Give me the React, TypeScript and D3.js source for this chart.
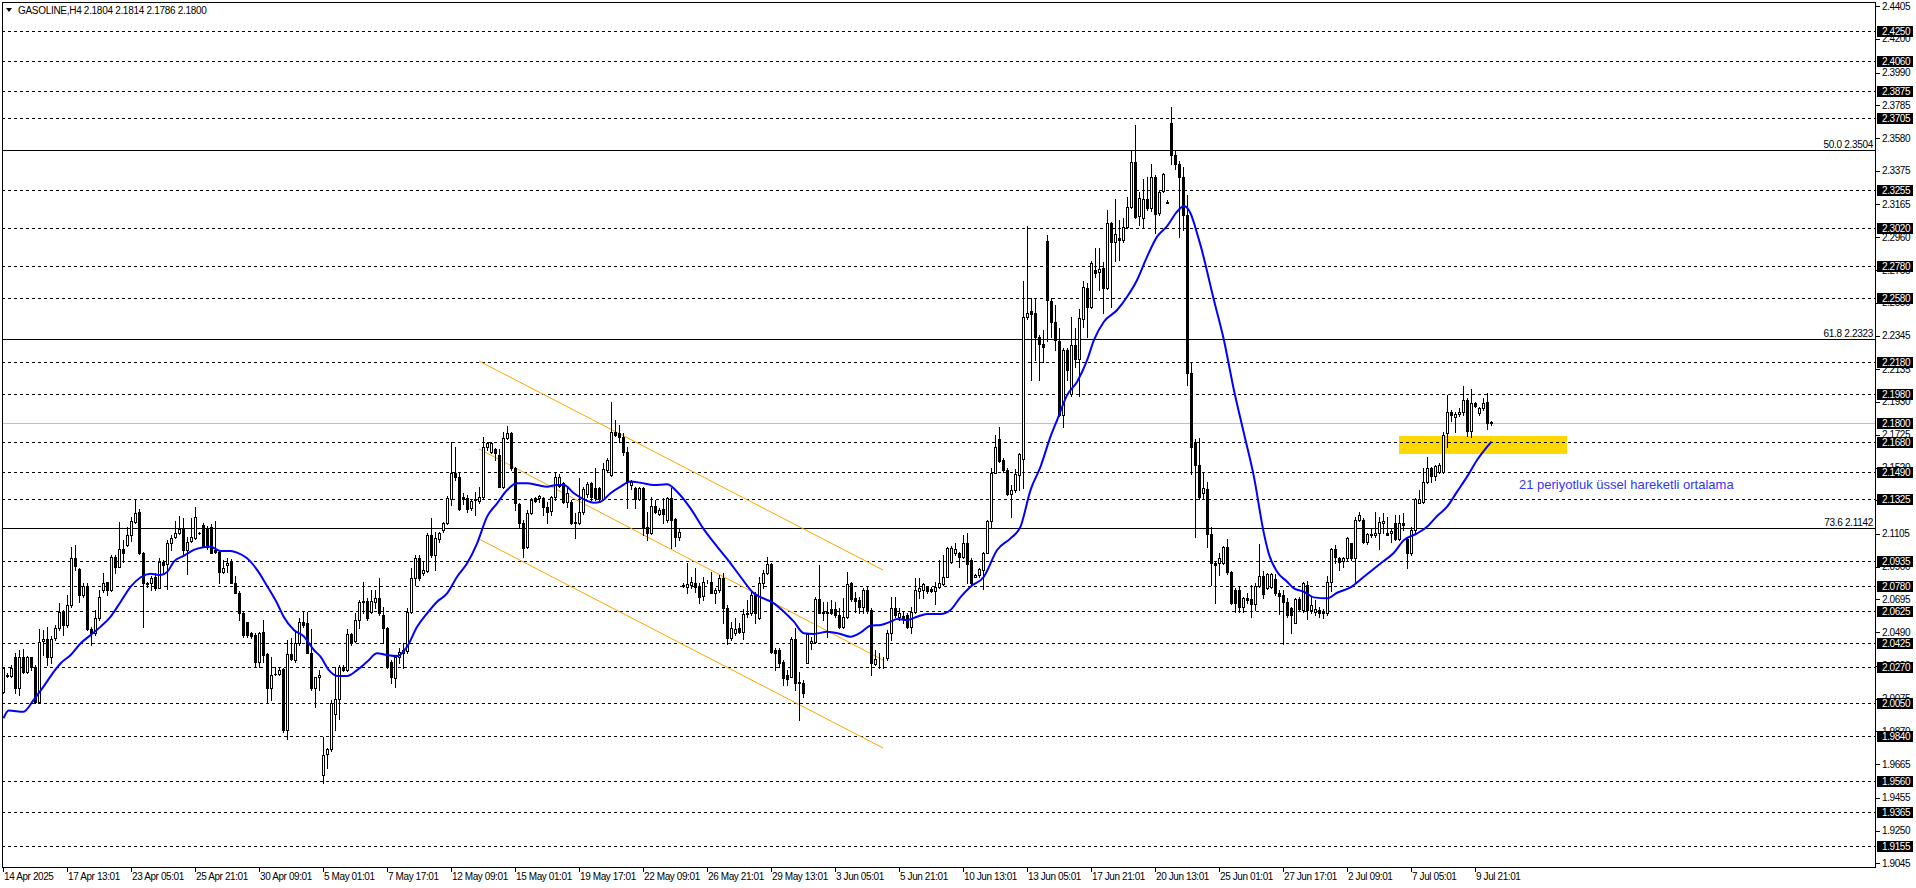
import React from "react";
import * as d3 from "d3";

const W = 1916;
const H = 888;

const barOpen = [
  2.0118, 2.0220, 2.0219, 2.0333, 2.0139, 2.0333, 2.0244, 2.0333, 2.0275, 2.0056,
  2.0437, 2.0446, 2.0337, 2.0452, 2.0515, 2.0619, 2.0536, 2.0661, 2.0953, 2.0884,
  2.0723, 2.0779, 2.0510, 2.0483, 2.0577, 2.0755, 2.0802, 2.0755, 2.0959, 2.0900,
  2.1009, 2.1036, 2.1098, 2.1182, 2.1240, 2.0984, 2.0796, 2.0800, 2.0834, 2.0765,
  2.0927, 2.0915, 2.1050, 2.1084, 2.1109, 2.1140, 2.1005, 2.1063, 2.1078, 2.1113,
  2.1161, 2.1140, 2.1146, 2.1005, 2.0994, 2.0869, 2.0911, 2.0932, 2.0800, 2.0738,
  2.0609, 2.0552, 2.0483, 2.0473, 2.0306, 2.0490, 2.0354, 2.0139, 2.0229, 2.0229,
  2.0258, 1.9879, 2.0354, 2.0317, 2.0421, 2.0556, 2.0546, 2.0362, 2.0139, 2.0208,
  1.9597, 1.9729, 1.9758, 1.9980, 2.0070, 2.0274, 2.0254, 2.0477, 2.0437, 2.0566,
  2.0677, 2.0685, 2.0619, 2.0677, 2.0702, 2.0598, 2.0514, 2.0306, 2.0202, 2.0337,
  2.0358, 2.0374, 2.0618, 2.0827, 2.0952, 2.0862, 2.0875, 2.1098, 2.0973, 2.1073,
  2.1129, 2.1171, 2.1321, 2.1484, 2.1463, 2.1334, 2.1327, 2.1265, 2.1317, 2.1311,
  2.1338, 2.1646, 2.1620, 2.1634, 2.1598, 2.1400, 2.1702, 2.1738, 2.1515, 2.1292,
  2.1171, 2.1021, 2.1238, 2.1327, 2.1327, 2.1327, 2.1275, 2.1250, 2.1338, 2.1405,
  2.1421, 2.1306, 2.1306, 2.1181, 2.1175, 2.1244, 2.1354, 2.1421, 2.1390, 2.1390,
  2.1321, 2.1505, 2.1473, 2.1744, 2.1738, 2.1713, 2.1619, 2.1411, 2.1390, 2.1321,
  2.1390, 2.1150, 2.1113, 2.1279, 2.1229, 2.1258, 2.1192, 2.1327, 2.1196, 2.1088,
  2.0782, 2.0775, 2.0786, 2.0796, 2.0781, 2.0716, 2.0806, 2.0806, 2.0737, 2.0754,
  2.0827, 2.0639, 2.0452, 2.0483, 2.0514, 2.0494, 2.0604, 2.0608, 2.0723, 2.0577,
  2.0800, 2.0858, 2.0917, 2.0379, 2.0379, 2.0306, 2.0222, 2.0212, 2.0445, 2.0180,
  2.0174, 2.0300, 2.0424, 2.0431, 2.0698, 2.0618, 2.0608, 2.0633, 2.0633, 2.0598,
  2.0520, 2.0583, 2.0800, 2.0702, 2.0691, 2.0645, 2.0754, 2.0629, 2.0291, 2.0326,
  2.0326, 2.0326, 2.0487, 2.0639, 2.0583, 2.0591, 2.0598, 2.0525, 2.0618, 2.0750,
  2.0754, 2.0775, 2.0758, 2.0750, 2.0771, 2.0792, 2.0837, 2.0931, 2.0983, 2.0983,
  2.0958, 2.1046, 2.0941, 2.0837, 2.0848, 2.0879, 2.0987, 2.1185, 2.1487, 2.1696,
  2.1567, 2.1504, 2.1354, 2.1379, 2.1473, 2.1571, 2.2459, 2.2498, 2.2488, 2.2334,
  2.2292, 2.2938, 2.2563, 2.2432, 2.2313, 2.1848, 2.2255, 2.1980, 2.2286, 2.2196,
  2.2447, 2.2640, 2.2526, 2.2755, 2.2745, 2.2765, 2.2640, 2.3051, 2.2932, 2.2953,
  2.2943, 2.3022, 2.3147, 2.3433, 2.3093, 2.3078, 2.3197, 2.3141, 2.3335, 2.3110,
  2.3252, 2.3180, 2.3673, 2.3475, 2.3418, 2.3335, 2.3099, 2.2113, 2.1681, 2.1536,
  2.1359, 2.1384, 2.1104, 2.0925, 2.0925, 2.0925, 2.1025, 2.0869, 2.0754, 2.0754,
  2.0650, 2.0702, 2.0696, 2.0666, 2.0779, 2.0841, 2.0764, 2.0770, 2.0821, 2.0737,
  2.0723, 2.0681, 2.0639, 2.0550, 2.0696, 2.0629, 2.0785, 2.0629, 2.0618, 2.0629,
  2.0618, 2.0608, 2.0806, 2.1008, 2.0952, 2.0937, 2.0952, 2.1046, 2.0952, 2.1192,
  2.1192, 2.1056, 2.1104, 2.1100, 2.1112, 2.1175, 2.1108, 2.1108, 2.1175, 2.1071,
  2.1171, 2.1071, 2.0983, 2.1129, 2.1300, 2.1306, 2.1431, 2.1515, 2.1467, 2.1494,
  2.1494, 2.1734, 2.1869, 2.1834, 2.1855, 2.1869, 2.1942, 2.1750, 2.1926, 2.1859,
  2.1890, 2.1932, 2.1804,
];

const barHigh = [
  2.0275, 2.0233, 2.0285, 2.0358, 2.0379, 2.0383, 2.0342, 2.0337, 2.0285, 2.0508,
  2.0504, 2.0525, 2.0467, 2.0535, 2.0671, 2.0629, 2.0723, 2.1025, 2.1036, 2.0890,
  2.0796, 2.0796, 2.0525, 2.0629, 2.0755, 2.0859, 2.0807, 2.0973, 2.0973, 2.1182,
  2.1067, 2.1151, 2.1213, 2.1322, 2.1259, 2.0994, 2.0807, 2.0842, 2.0859, 2.0953,
  2.0942, 2.1067, 2.1098, 2.1188, 2.1217, 2.1203, 2.1088, 2.1203, 2.1272, 2.1119,
  2.1171, 2.1155, 2.1167, 2.1188, 2.1005, 2.0942, 2.0953, 2.0946, 2.0842, 2.0750,
  2.0619, 2.0556, 2.0494, 2.0483, 2.0494, 2.0567, 2.0362, 2.0337, 2.0275, 2.0275,
  2.0264, 2.0442, 2.0452, 2.0504, 2.0577, 2.0619, 2.0619, 2.0508, 2.0212, 2.0254,
  1.9837, 1.9764, 2.0066, 2.0274, 2.0285, 2.0285, 2.0508, 2.0483, 2.0608, 2.0691,
  2.0802, 2.0702, 2.0754, 2.0754, 2.0827, 2.0650, 2.0525, 2.0316, 2.0348, 2.0389,
  2.0420, 2.0639, 2.0889, 2.0973, 2.0973, 2.0931, 2.1108, 2.1202, 2.1119, 2.1119,
  2.1181, 2.1342, 2.1682, 2.1650, 2.1484, 2.1359, 2.1348, 2.1317, 2.1369, 2.1396,
  2.1709, 2.1682, 2.1682, 2.1640, 2.1634, 2.1744, 2.1780, 2.1744, 2.1525, 2.1296,
  2.1192, 2.1254, 2.1327, 2.1338, 2.1348, 2.1338, 2.1306, 2.1342, 2.1484, 2.1480,
  2.1432, 2.1390, 2.1317, 2.1233, 2.1452, 2.1396, 2.1432, 2.1432, 2.1515, 2.1400,
  2.1546, 2.1577, 2.1932, 2.1817, 2.1786, 2.1734, 2.1650, 2.1442, 2.1396, 2.1400,
  2.1396, 2.1244, 2.1338, 2.1317, 2.1265, 2.1327, 2.1338, 2.1390, 2.1202, 2.1134,
  2.0796, 2.0921, 2.0833, 2.0890, 2.0796, 2.0837, 2.0817, 2.0869, 2.0764, 2.0848,
  2.0858, 2.0660, 2.0556, 2.0577, 2.0545, 2.0633, 2.0691, 2.0744, 2.0744, 2.0837,
  2.0879, 2.0962, 2.0921, 2.0389, 2.0389, 2.0316, 2.0254, 2.0462, 2.0514, 2.0243,
  2.0191, 2.0483, 2.0462, 2.0712, 2.0910, 2.0681, 2.0681, 2.0691, 2.0681, 2.0639,
  2.0702, 2.0869, 2.0806, 2.0744, 2.0712, 2.0764, 2.0775, 2.0639, 2.0379, 2.0358,
  2.0337, 2.0504, 2.0712, 2.0712, 2.0639, 2.0618, 2.0608, 2.0650, 2.0827, 2.0827,
  2.0800, 2.0779, 2.0775, 2.0806, 2.0942, 2.0973, 2.1025, 2.1029, 2.1046, 2.0994,
  2.1098, 2.1110, 2.0952, 2.0852, 2.0890, 2.0994, 2.1192, 2.1515, 2.1723, 2.1771,
  2.1577, 2.1515, 2.1410, 2.1508, 2.1612, 2.2688, 2.3030, 2.2578, 2.2578, 2.2349,
  2.2380, 2.2974, 2.2578, 2.2536, 2.2390, 2.2265, 2.2265, 2.2463, 2.2390, 2.2509,
  2.2688, 2.2675, 2.2813, 2.2891, 2.2891, 2.2807, 2.3130, 2.3057, 2.3197, 2.3068,
  2.3078, 2.3210, 2.3502, 2.3662, 2.3245, 2.3322, 2.3335, 2.3418, 2.3350, 2.3256,
  2.3364, 2.3192, 2.3773, 2.3506, 2.3439, 2.3397, 2.3224, 2.2171, 2.1696, 2.1702,
  2.1484, 2.1432, 2.1146, 2.0931, 2.0983, 2.1029, 2.1071, 2.0875, 2.0764, 2.0770,
  2.0712, 2.0733, 2.0785, 2.0800, 2.1041, 2.0875, 2.0858, 2.0858, 2.0854, 2.0754,
  2.0754, 2.0702, 2.0650, 2.0702, 2.0708, 2.0806, 2.0812, 2.0712, 2.0691, 2.0650,
  2.0633, 2.0841, 2.1015, 2.1035, 2.0962, 2.0962, 2.1088, 2.1046, 2.1213, 2.1244,
  2.1202, 2.1108, 2.1134, 2.1244, 2.1208, 2.1233, 2.1213, 2.1134, 2.1223, 2.1223,
  2.1233, 2.1077, 2.1146, 2.1327, 2.1379, 2.1515, 2.1584, 2.1525, 2.1536, 2.1546,
  2.1744, 2.1973, 2.1880, 2.1869, 2.1890, 2.2030, 2.1953, 2.2009, 2.1932, 2.1901,
  2.1953, 2.1988, 2.1814,
];

const barLow = [
  2.0112, 2.0208, 2.0212, 2.0108, 2.0098, 2.0233, 2.0233, 2.0254, 2.0046, 2.0046,
  2.0348, 2.0285, 2.0296, 2.0442, 2.0504, 2.0473, 2.0525, 2.0650, 2.0880, 2.0681,
  2.0713, 2.0504, 2.0410, 2.0473, 2.0567, 2.0744, 2.0723, 2.0750, 2.0859, 2.0896,
  2.0932, 2.1030, 2.1063, 2.1176, 2.0980, 2.0521, 2.0775, 2.0755, 2.0755, 2.0765,
  2.0859, 2.0759, 2.1005, 2.1078, 2.1105, 2.0973, 2.0855, 2.1057, 2.1071, 2.1105,
  2.1021, 2.1009, 2.0984, 2.0984, 2.0796, 2.0859, 2.0869, 2.0796, 2.0734, 2.0567,
  2.0463, 2.0463, 2.0452, 2.0275, 2.0275, 2.0306, 2.0046, 2.0067, 2.0223, 2.0223,
  1.9868, 1.9820, 2.0317, 2.0306, 2.0410, 2.0525, 2.0358, 2.0129, 2.0025, 2.0129,
  1.9549, 1.9643, 1.9745, 1.9878, 1.9950, 2.0250, 2.0250, 2.0410, 2.0431, 2.0514,
  2.0608, 2.0566, 2.0608, 2.0639, 2.0598, 2.0420, 2.0264, 2.0170, 2.0149, 2.0295,
  2.0264, 2.0358, 2.0608, 2.0785, 2.0817, 2.0848, 2.0869, 2.0962, 2.0879, 2.1056,
  2.1119, 2.1167, 2.1286, 2.1442, 2.1254, 2.1292, 2.1244, 2.1254, 2.1223, 2.1296,
  2.1327, 2.1630, 2.1609, 2.1567, 2.1396, 2.1390, 2.1696, 2.1505, 2.1254, 2.1140,
  2.0962, 2.1015, 2.1230, 2.1306, 2.1306, 2.1223, 2.1171, 2.1223, 2.1317, 2.1396,
  2.1296, 2.1275, 2.1167, 2.1077, 2.1167, 2.1230, 2.1338, 2.1317, 2.1317, 2.1306,
  2.1317, 2.1494, 2.1467, 2.1717, 2.1682, 2.1598, 2.1265, 2.1384, 2.1265, 2.1317,
  2.1098, 2.1067, 2.1104, 2.1233, 2.1223, 2.1171, 2.1181, 2.1015, 2.1029, 2.1067,
  2.0771, 2.0737, 2.0764, 2.0744, 2.0671, 2.0692, 2.0796, 2.0733, 2.0675, 2.0744,
  2.0550, 2.0416, 2.0441, 2.0473, 2.0483, 2.0445, 2.0587, 2.0598, 2.0550, 2.0570,
  2.0764, 2.0854, 2.0358, 2.0254, 2.0274, 2.0160, 2.0160, 2.0207, 2.0129, 1.9941,
  2.0087, 2.0295, 2.0383, 2.0420, 2.0608, 2.0566, 2.0458, 2.0604, 2.0587, 2.0514,
  2.0514, 2.0577, 2.0687, 2.0618, 2.0612, 2.0612, 2.0612, 2.0222, 2.0285, 2.0264,
  2.0264, 2.0316, 2.0441, 2.0587, 2.0566, 2.0550, 2.0514, 2.0483, 2.0608, 2.0702,
  2.0702, 2.0733, 2.0744, 2.0666, 2.0764, 2.0785, 2.0833, 2.0921, 2.0973, 2.0900,
  2.0952, 2.0800, 2.0785, 2.0835, 2.0837, 2.0758, 2.0983, 2.1150, 2.1483, 2.1556,
  2.1494, 2.1348, 2.1213, 2.1369, 2.1379, 2.1390, 2.2447, 2.2067, 2.2192, 2.2067,
  2.2182, 2.2313, 2.2338, 2.2255, 2.1842, 2.1775, 2.2067, 2.1966, 2.2150, 2.1966,
  2.2397, 2.2338, 2.2515, 2.2713, 2.2630, 2.2484, 2.2634, 2.2526, 2.2813, 2.2818,
  2.2932, 2.3016, 2.3141, 2.3078, 2.3037, 2.3022, 2.3130, 2.3126, 2.2985, 2.3099,
  2.3245, 2.3177, 2.3418, 2.3384, 2.2964, 2.3005, 2.2036, 2.1479, 2.1083, 2.1321,
  2.1327, 2.1025, 2.0785, 2.0675, 2.0848, 2.0917, 2.0854, 2.0666, 2.0618, 2.0618,
  2.0618, 2.0671, 2.0583, 2.0629, 2.0770, 2.0702, 2.0758, 2.0764, 2.0723, 2.0604,
  2.0416, 2.0587, 2.0483, 2.0545, 2.0629, 2.0618, 2.0571, 2.0608, 2.0598, 2.0587,
  2.0577, 2.0598, 2.0750, 2.0921, 2.0879, 2.0900, 2.0942, 2.0942, 2.0800, 2.1188,
  2.1046, 2.1041, 2.1088, 2.1088, 2.1008, 2.1108, 2.1098, 2.1056, 2.1067, 2.1067,
  2.1129, 2.0890, 2.0973, 2.1112, 2.1296, 2.1296, 2.1425, 2.1431, 2.1442, 2.1484,
  2.1488, 2.1650, 2.1813, 2.1744, 2.1842, 2.1848, 2.1717, 2.1713, 2.1901, 2.1848,
  2.1880, 2.1759, 2.1786,
];

const barClose = [
  2.0264, 2.0215, 2.0269, 2.0139, 2.0333, 2.0244, 2.0333, 2.0275, 2.0056, 2.0431,
  2.0446, 2.0337, 2.0446, 2.0515, 2.0619, 2.0536, 2.0661, 2.0953, 2.0907, 2.0723,
  2.0779, 2.0510, 2.0483, 2.0577, 2.0713, 2.0796, 2.0755, 2.0959, 2.0900, 2.1009,
  2.0984, 2.1098, 2.1186, 2.1234, 2.0984, 2.0796, 2.0790, 2.0827, 2.0765, 2.0927,
  2.0911, 2.1050, 2.1078, 2.1113, 2.1134, 2.1005, 2.1057, 2.1084, 2.1213, 2.1109,
  2.1025, 2.1025, 2.0988, 2.0994, 2.0869, 2.0890, 2.0925, 2.0800, 2.0738, 2.0609,
  2.0473, 2.0473, 2.0467, 2.0306, 2.0483, 2.0348, 2.0139, 2.0223, 2.0226, 2.0254,
  1.9879, 2.0352, 2.0321, 2.0421, 2.0556, 2.0536, 2.0362, 2.0139, 2.0208, 2.0221,
  1.9722, 1.9758, 2.0045, 2.0070, 2.0274, 2.0254, 2.0477, 2.0431, 2.0566, 2.0677,
  2.0685, 2.0577, 2.0685, 2.0702, 2.0608, 2.0514, 2.0274, 2.0208, 2.0337, 2.0368,
  2.0379, 2.0618, 2.0827, 2.0952, 2.0827, 2.0879, 2.1098, 2.0973, 2.1077, 2.1108,
  2.1171, 2.1327, 2.1484, 2.1463, 2.1259, 2.1321, 2.1259, 2.1311, 2.1321, 2.1338,
  2.1650, 2.1671, 2.1671, 2.1609, 2.1400, 2.1702, 2.1738, 2.1515, 2.1296, 2.1171,
  2.1015, 2.1238, 2.1317, 2.1313, 2.1342, 2.1275, 2.1244, 2.1338, 2.1463, 2.1463,
  2.1306, 2.1358, 2.1175, 2.1171, 2.1244, 2.1384, 2.1416, 2.1334, 2.1327, 2.1321,
  2.1509, 2.1567, 2.1744, 2.1723, 2.1713, 2.1619, 2.1432, 2.1432, 2.1321, 2.1390,
  2.1140, 2.1113, 2.1279, 2.1244, 2.1254, 2.1229, 2.1327, 2.1192, 2.1088, 2.1119,
  2.0786, 2.0792, 2.0806, 2.0775, 2.0712, 2.0806, 2.0806, 2.0737, 2.0754, 2.0827,
  2.0639, 2.0452, 2.0514, 2.0510, 2.0494, 2.0604, 2.0612, 2.0723, 2.0608, 2.0796,
  2.0858, 2.0917, 2.0368, 2.0358, 2.0295, 2.0201, 2.0195, 2.0445, 2.0170, 2.0170,
  2.0108, 2.0479, 2.0437, 2.0698, 2.0608, 2.0608, 2.0618, 2.0612, 2.0598, 2.0520,
  2.0583, 2.0792, 2.0696, 2.0687, 2.0650, 2.0754, 2.0625, 2.0295, 2.0320, 2.0326,
  2.0331, 2.0483, 2.0640, 2.0598, 2.0608, 2.0577, 2.0525, 2.0618, 2.0754, 2.0764,
  2.0792, 2.0750, 2.0750, 2.0775, 2.0796, 2.0837, 2.1015, 2.1015, 2.1008, 2.0958,
  2.1046, 2.0915, 2.0796, 2.0848, 2.0883, 2.0987, 2.1185, 2.1487, 2.1646, 2.1563,
  2.1504, 2.1354, 2.1379, 2.1479, 2.1604, 2.2459, 2.2488, 2.2480, 2.2334, 2.2292,
  2.2271, 2.2567, 2.2432, 2.2317, 2.1848, 2.2255, 2.2130, 2.2286, 2.2196, 2.2453,
  2.2647, 2.2526, 2.2801, 2.2738, 2.2759, 2.2640, 2.3051, 2.2932, 2.2980, 2.2943,
  2.3022, 2.3147, 2.3433, 2.3089, 2.3204, 2.3197, 2.3141, 2.3335, 2.3105, 2.3245,
  2.3356, 2.3177, 2.3475, 2.3418, 2.3335, 2.3099, 2.2113, 2.1646, 2.1536, 2.1338,
  2.1390, 2.1104, 2.0921, 2.0910, 2.0952, 2.1025, 2.0869, 2.0675, 2.0675, 2.0650,
  2.0702, 2.0692, 2.0666, 2.0779, 2.0841, 2.0729, 2.0852, 2.0854, 2.0733, 2.0716,
  2.0681, 2.0598, 2.0598, 2.0696, 2.0633, 2.0796, 2.0629, 2.0660, 2.0633, 2.0608,
  2.0608, 2.0806, 2.1008, 2.0962, 2.0931, 2.0952, 2.1077, 2.0952, 2.1192, 2.1223,
  2.1056, 2.1104, 2.1098, 2.1108, 2.1181, 2.1188, 2.1098, 2.1125, 2.1071, 2.1175,
  2.1161, 2.0983, 2.1129, 2.1321, 2.1321, 2.1431, 2.1515, 2.1467, 2.1529, 2.1536,
  2.1723, 2.1869, 2.1848, 2.1855, 2.1869, 2.1942, 2.1750, 2.1926, 2.1905, 2.1890,
  2.1926, 2.1800, 2.1800,
];

// 21-period EMA (bar index, value)
const emaBar = [
  0, 1.3, 5, 7.5, 10, 12.6, 14.3, 16.8, 19.3, 21.8, 24.3, 26.8, 29.3, 31.8, 34.3, 36.8, 39.3, 41, 42.6, 45,
  47.6, 50, 51.7, 54.3, 56.8, 58.4, 60.9, 63.4, 65.9, 68.4, 70, 72.6, 75.1, 77.6, 79.25, 81.3, 83.4, 85.9, 88.4, 90.9,
  93.4, 95.9, 98.4, 100.9, 103.4, 105.9, 108.4, 110.9, 113.4, 115.9, 118.4, 120.9, 123.4, 125.9, 128.4, 130.9, 133.4, 135.9, 138.4, 140.1,
  142.6, 145.1, 147.6, 149.25, 151.75, 154.25, 156.75, 159.25, 162.6, 165.9, 168.4, 171.75, 175.1, 178.4, 181.75, 184.25, 187.6, 190.1, 192.6, 195.1,
  197.6, 200.1, 202.6, 205.9, 209.25, 211.75, 214.25, 216.75, 219.25, 221.75, 223.4, 225.9, 228.4, 230.9, 234.25, 236.75, 239.25, 241.75, 245.1, 248.4,
  251.75, 254.25, 256.75, 259.25, 261.75, 263.4, 265.9, 268.4, 270.9, 272.6, 275.1, 278.4, 280.9, 283.4, 285.9, 288.4, 290.9, 293.4, 295.1, 296.75,
  298.4, 299.25, 302.6, 305.1, 307.6, 310.1, 312.6, 315.1, 316.3, 318.4, 320.9, 322.6, 325.1, 327.6, 330.9, 333.4, 336.75, 340.1, 344.25, 347.6,
  350.1, 353.4, 355.9, 358.4, 360.9, 363.4, 365.9, 368.4, 372,
];
const emaValue = [
  1.9952, 2.0000, 1.9993, 2.0066, 2.0150, 2.0244, 2.0296, 2.0348, 2.0421, 2.0473, 2.0525, 2.0588, 2.0681, 2.0775, 2.0834, 2.0855, 2.0848, 2.0869, 2.0932, 2.0967,
  2.1005, 2.1021, 2.1025, 2.0998, 2.0998, 2.0988, 2.0952, 2.0880, 2.0779, 2.0671, 2.0588, 2.0504, 2.0463, 2.0379, 2.0337, 2.0254, 2.0216, 2.0216, 2.0253, 2.0305,
  2.0358, 2.0347, 2.0341, 2.0400, 2.0524, 2.0608, 2.0681, 2.0733, 2.0837, 2.0921, 2.1046, 2.1213, 2.1296, 2.1379, 2.1421, 2.1421, 2.1411, 2.1400, 2.1411, 2.1411,
  2.1359, 2.1321, 2.1300, 2.1306, 2.1359, 2.1400, 2.1432, 2.1425, 2.1411, 2.1415, 2.1369, 2.1265, 2.1133, 2.1025, 2.0921, 2.0837, 2.0733, 2.0700, 2.0671, 2.0618,
  2.0556, 2.0483, 2.0479, 2.0493, 2.0479, 2.0462, 2.0487, 2.0531, 2.0535, 2.0556, 2.0573, 2.0566, 2.0587, 2.0604, 2.0604, 2.0629, 2.0710, 2.0775, 2.0837, 2.1004,
  2.1077, 2.1150, 2.1379, 2.1525, 2.1713, 2.1817, 2.1973, 2.2057, 2.2192, 2.2317, 2.2432, 2.2505, 2.2588, 2.2693, 2.2839, 2.2964, 2.3030, 2.3120, 2.3155, 2.3110,
  2.2984, 2.2911, 2.2568, 2.2318, 2.2005, 2.1734, 2.1463, 2.1108, 2.0983, 2.0868, 2.0806, 2.0764, 2.0743, 2.0708, 2.0702, 2.0737, 2.0770, 2.0837, 2.0920, 2.0987,
  2.1066, 2.1108, 2.1150, 2.1217, 2.1275, 2.1369, 2.1463, 2.1567, 2.1682,
];

const timeLabels = [
  "14 Apr 2025", "17 Apr 13:01", "23 Apr 05:01", "25 Apr 21:01", "30 Apr 09:01", "5 May 01:01",
  "7 May 17:01", "12 May 09:01", "15 May 01:01", "19 May 17:01", "22 May 09:01", "26 May 21:01",
  "29 May 13:01", "3 Jun 05:01", "5 Jun 21:01", "10 Jun 13:01", "13 Jun 05:01", "17 Jun 21:01",
  "20 Jun 13:01", "25 Jun 01:01", "27 Jun 17:01", "2 Jul 09:01", "7 Jul 05:01", "9 Jul 21:01",
];
const barsPerTimeLabel = 16;

const priceTicks = [
  2.4405, 2.4200, 2.3990, 2.3785, 2.3580, 2.3375, 2.3165, 2.2960, 2.2755, 2.2550, 2.2345, 2.2135, 2.1930, 2.1725,
  2.1520, 2.1315, 2.1105, 2.0900, 2.0695, 2.0490, 2.0280, 2.0075, 1.9870, 1.9665, 1.9455, 1.9250, 1.9045,
];

const levelLines = [
  2.4250, 2.4060, 2.3875, 2.3705, 2.3255, 2.3020, 2.2780, 2.2580, 2.2180, 2.1980, 2.1680, 2.1490, 2.1325,
  2.0935, 2.0780, 2.0625, 2.0425, 2.0270, 2.0050, 1.9840, 1.9560, 1.9365, 1.9155,
];
const bidPrice = 2.1800;

const fiboRatio = ["50.0", "61.8", "73.6"];
const fiboPrice = [2.3504, 2.2323, 2.1142];

// regression channel
const channelStartBar = 119;
const channelEndBar = 220;
const channelStart = [2.2186, 2.1636, 2.1073];
const channelEnd = [2.0879, 2.0316, 1.9766];

const zoneStartBar = 349;
const zoneEndBar = 391;
const zoneHigh = 2.1717;
const zoneLow = 2.1605;

const titleText = "GASOLINE,H4  2.1804 2.1814 2.1786 2.1800";
const emaNote = "21 periyotluk üssel hareketli ortalama";
const emaNoteBar = 379;
const emaNotePrice = 2.1410;

const FONT = "'Liberation Sans', Arial, sans-serif";

export default function App() {
  const plotLeft = 2;
  const plotRight = 1875;
  const plotTop = 2;
  const plotBottom = 867;

  const x = d3.scaleLinear().domain([0, 1]).range([3, 7]);
  const y = d3.scaleLinear().domain([1.9155, 2.425]).range([845.7, 31]);

  const emaPts: [number, number][] = emaBar.map((b, i) => [b, emaValue[i]]);
  const emaLine = d3
    .line<[number, number]>()
    .x((d) => x(d[0]) + 0.5)
    .y((d) => y(d[1]))
    .curve(d3.curveMonotoneX);

  const candles = barOpen.map((o, i) => {
    const c = barClose[i];
    const hi = barHigh[i];
    const lo = barLow[i];
    const cx = Math.round(x(i));
    const yTop = Math.round(y(Math.max(o, c)));
    const yBot = Math.round(y(Math.min(o, c)));
    const yHi = Math.round(y(hi));
    const yLo = Math.round(y(lo));
    const bull = c >= o;
    return (
      <g key={i}>
        <line x1={cx + 0.5} x2={cx + 0.5} y1={yHi} y2={yLo + 1} stroke="#000" strokeWidth={1} />
        {bull ? (
          <rect x={cx - 0.5} y={yTop + 0.5} width={2} height={Math.max(0, yBot - yTop)} fill="#fff" stroke="#000" strokeWidth={1} />
        ) : (
          <rect x={cx - 1} y={yTop} width={3} height={Math.max(1, yBot - yTop + 1)} fill="#000" />
        )}
      </g>
    );
  });

  const yi = (v: number) => Math.round(y(v)) + 0.5;

  return (
    <div style={{ position: "absolute", left: 0, top: 0, width: W, height: H }}>
      <svg width={W} height={H} style={{ display: "block" }} fontFamily={FONT}>
        <rect x={0} y={0} width={W} height={H} fill="#fff" />

        {/* zone */}
        <rect
          x={x(zoneStartBar)}
          y={y(zoneHigh)}
          width={x(zoneEndBar) - x(zoneStartBar)}
          height={y(zoneLow) - y(zoneHigh)}
          fill="#FFD700"
        />

        {/* level lines */}
        <g shapeRendering="crispEdges">
          {levelLines.map((v, i) => (
            <line key={i} x1={plotLeft} x2={plotRight} y1={yi(v)} y2={yi(v)} stroke="#000" strokeDasharray="3,3" />
          ))}
          <line x1={plotLeft} x2={plotRight} y1={yi(bidPrice)} y2={yi(bidPrice)} stroke="#C0C0C0" />
          {fiboPrice.map((v, i) => (
            <line key={i} x1={plotLeft} x2={plotRight} y1={yi(v)} y2={yi(v)} stroke="#000" />
          ))}
        </g>
        {fiboPrice.map((v, i) => (
          <text key={i} x={plotRight - 2} y={Math.round(y(v)) - 2} fontSize={10} letterSpacing={-0.3} textAnchor="end" fill="#000">
            {`${fiboRatio[i]} ${v.toFixed(4)}`}
          </text>
        ))}

        {/* channel */}
        {channelStart.map((s, i) => (
          <line
            key={i}
            x1={x(channelStartBar)}
            y1={y(s)}
            x2={x(channelEndBar)}
            y2={y(channelEnd[i])}
            stroke="#FFA500"
            strokeWidth={1}
          />
        ))}

        {/* candles */}
        <g shapeRendering="crispEdges">{candles}</g>

        {/* EMA */}
        <path d={emaLine(emaPts) || ""} fill="none" stroke="#0000FF" strokeWidth={2} />

        <text x={x(emaNoteBar)} y={y(emaNotePrice)} fontSize={13} fill="#3535F5" dominantBaseline="middle">
          {emaNote}
        </text>

        {/* frame */}
        <g shapeRendering="crispEdges" stroke="#000" fill="none">
          <line x1={plotLeft + 0.5} x2={plotLeft + 0.5} y1={plotTop} y2={plotBottom + 1} />
          <line x1={plotLeft} x2={plotRight + 1} y1={plotTop + 0.5} y2={plotTop + 0.5} />
          <line x1={plotRight + 0.5} x2={plotRight + 0.5} y1={plotTop} y2={plotBottom + 1} />
          <line x1={plotLeft} x2={plotRight + 1} y1={plotBottom + 0.5} y2={plotBottom + 0.5} />
        </g>

        {/* price axis */}
        <g shapeRendering="crispEdges">
          {priceTicks.map((v, i) => (
            <line key={i} x1={plotRight + 1} x2={plotRight + 5} y1={yi(v)} y2={yi(v)} stroke="#000" />
          ))}
        </g>
        {priceTicks.map((v, i) => (
          <text key={i} x={1882} y={y(v) + 3.5} fontSize={10} letterSpacing={-0.4} fill="#000">
            {v.toFixed(4)}
          </text>
        ))}
        {[...levelLines, bidPrice].map((v, i) => (
          <g key={i}>
            <rect x={1877} y={Math.round(y(v)) - 5} width={36} height={11} fill="#000" shapeRendering="crispEdges" />
            <text x={1882} y={y(v) + 4} fontSize={10} letterSpacing={-0.4} fill="#fff">
              {v.toFixed(4)}
            </text>
          </g>
        ))}

        {/* time axis */}
        <g shapeRendering="crispEdges">
          {timeLabels.map((_, i) => (
            <line
              key={i}
              x1={Math.round(x(i * barsPerTimeLabel)) + 0.5}
              x2={Math.round(x(i * barsPerTimeLabel)) + 0.5}
              y1={plotBottom + 1}
              y2={plotBottom + 5}
              stroke="#000"
            />
          ))}
        </g>
        {timeLabels.map((t, i) => (
          <text key={i} x={Math.round(x(i * barsPerTimeLabel)) + 1} y={880} fontSize={10} letterSpacing={-0.4} fill="#000">
            {t}
          </text>
        ))}

        {/* title */}
        <path d="M6,8 L12,8 L9,12 Z" fill="#000" />
        <text x={18} y={14} fontSize={10} letterSpacing={-0.3} fill="#000">
          {titleText}
        </text>
      </svg>
    </div>
  );
}
